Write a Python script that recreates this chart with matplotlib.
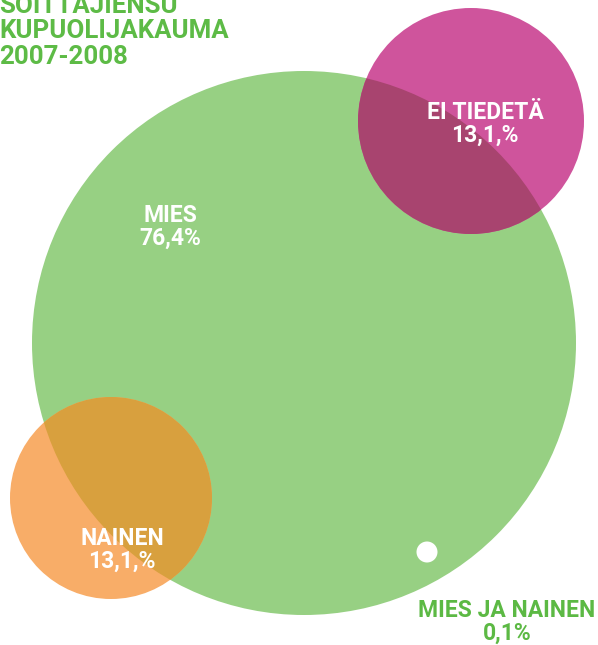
import matplotlib
matplotlib.use("Agg")
import matplotlib.pyplot as plt
from matplotlib.patches import Circle

# ---- data ----
categories = ["MIES", "EI TIEDETÄ", "NAINEN", "MIES JA NAINEN"]
value_labels = ["76,4%", "13,1,%", "13,1,%", "0,1%"]
values = [76.4, 13.1, 13.1, 0.1]
title_lines = ["SOITTAJIENSU", "KUPUOLIJAKAUMA", "2007-2008"]

# ---- layout (pixels) ----
W, H = 598, 645
centers = [(304, 343), (471, 121), (111, 498), (427, 552)]
radii = [272, 113, 101, 10.5]
fill_colors = ["#97d083", "#cf549c", "#f8ad68", "#ffffff"]
overlap_colors = [None, "#a8446f", "#d8a03e", None]
label_pos = [(170, 227), (485, 124), (122, 550), (507, 622)]
label_colors = ["white", "white", "white", "#5cb944"]
title_color = "#5dbb46"
font = ["Roboto", "DejaVu Sans"]

fig = plt.figure(figsize=(W / 100, H / 100), dpi=100)
ax = fig.add_axes([0, 0, 1, 1])
ax.set_xlim(0, W)
ax.set_ylim(H, 0)
ax.set_aspect("equal")
ax.axis("off")

big = Circle(centers[0], radii[0], facecolor=fill_colors[0], edgecolor="none", zorder=1)
ax.add_patch(big)
for i in (1, 2):
    ax.add_patch(Circle(centers[i], radii[i], facecolor=fill_colors[i], edgecolor="none", zorder=2))
    ov = Circle(centers[i], radii[i], facecolor=overlap_colors[i], edgecolor="none", zorder=3)
    ax.add_patch(ov)
    ov.set_clip_path(big)
ax.add_patch(Circle(centers[3], radii[3], facecolor=fill_colors[3], edgecolor="none", zorder=4))

for cat, vl, (x, y), c in zip(categories, value_labels, label_pos, label_colors):
    ax.text(x, y, cat + "\n" + vl, ha="center", va="center", color=c,
            fontsize=16.5, fontweight="bold", family=font, linespacing=0.95, zorder=5)

for k, line in enumerate(title_lines):
    ax.text(-1, 13 + 25.5 * k, line, ha="left", va="baseline", color=title_color,
            fontsize=18.6, fontweight="bold", family=font, zorder=5)

fig.savefig("out.png", dpi=100)
